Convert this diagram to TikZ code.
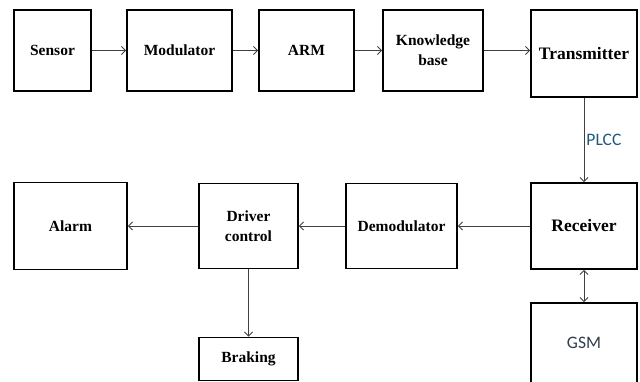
\documentclass[tikz,border=0pt]{standalone}
\usepackage{fontspec}
\setmainfont{Liberation Serif}
\newfontfamily\calibri{Carlito}
\usetikzlibrary{arrows.meta}
\definecolor{cline}{HTML}{404040}
\definecolor{cteal}{HTML}{1F5A7A}
\definecolor{cslate}{HTML}{2F3D4C}
\tikzset{
  every picture/.style={line width=1.8pt},
  block/.style={draw=black, align=center, inner sep=2pt, font=\bfseries\fontsize{15.5}{20}\selectfont},
  bigblock/.style={block, font=\bfseries\fontsize{17.5}{21}\selectfont},
  link/.style={-{Straight Barb[length=4pt, width=8pt]}, draw=cline, line width=0.9pt},
  twoway/.style={link, {Straight Barb[length=4pt, width=8pt]}-{Straight Barb[length=4pt, width=8pt]}},
  tag/.style={font=\calibri\fontsize{17.5}{20}\selectfont},
}

\begin{document}
\begin{tikzpicture}[x=1pt, y=-1pt]
  \useasboundingbox (0,0) rectangle (640,381);
  % top row
  \node[block, minimum width=77pt, minimum height=81pt] (sensor) at (52.5,50.5) {Sensor};
  \node[block, minimum width=105pt, minimum height=81pt] (modulator) at (179.5,50.5) {Modulator};
  \node[block, minimum width=95pt, minimum height=81pt] (arm) at (306.5,50.5) {ARM};
  \node[block, minimum width=100pt, minimum height=81pt] (knowledge) at (433,50.5) {Knowledge\\base};
  \node[bigblock, minimum width=106pt, minimum height=87pt] (transmitter) at (584,53.5) {Transmitter};
  % bottom row
  \node[bigblock, minimum width=106pt, minimum height=86pt] (receiver) at (584,226) {Receiver};
  \node[block, minimum width=111pt, minimum height=85pt] (demod) at (401.5,226) {Demodulator};
  \node[block, minimum width=99pt, minimum height=85pt] (driver) at (248.5,226) {Driver\\control};
  \node[block, minimum width=113pt, minimum height=87pt] (alarm) at (70.5,226) {Alarm};
  \node[block, minimum width=99pt, minimum height=43pt] (braking) at (248.5,359) {Braking};
  \node[block, tag, text=cslate, minimum width=106pt, minimum height=80pt] (gsm) at (584,343) {GSM};
  % links
  \draw[link] (sensor) -- (modulator);
  \draw[link] (modulator) -- (arm);
  \draw[link] (arm) -- (knowledge);
  \draw[link] (knowledge.east) -- (knowledge.east -| transmitter.west);
  \draw[link] (transmitter) -- (receiver) node[midway, right, tag, text=cteal, inner sep=2pt] {PLCC};
  \draw[link] (receiver) -- (demod);
  \draw[link] (demod) -- (driver);
  \draw[link] (driver) -- (alarm);
  \draw[link] (driver) -- (braking);
  \draw[twoway] (receiver) -- (gsm);
\end{tikzpicture}
\end{document}
